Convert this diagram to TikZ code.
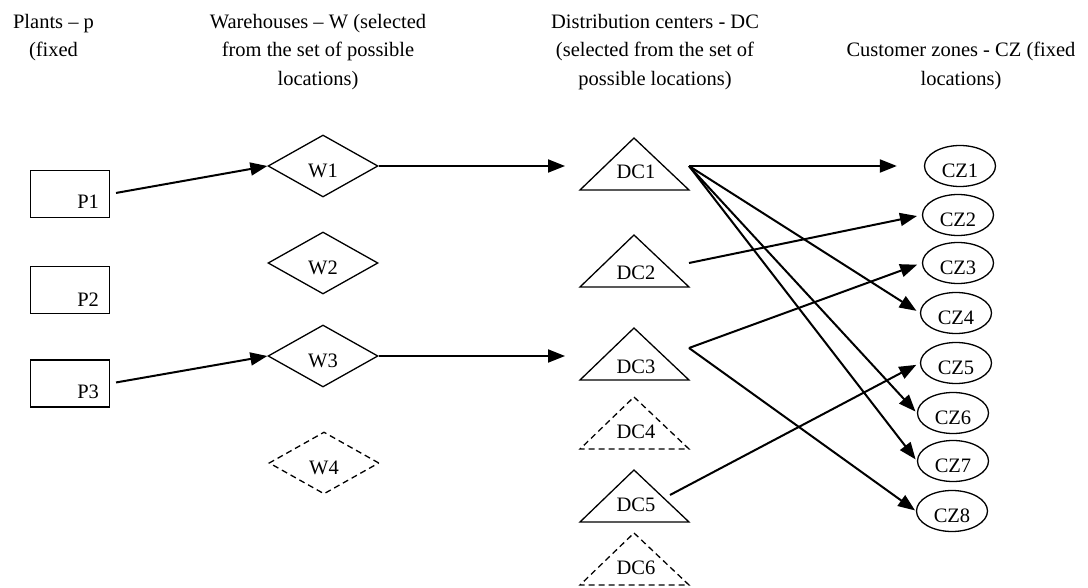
\documentclass[tikz,border=0pt]{standalone}
\usepackage{fontspec}
\setmainfont{Liberation Serif}
\usetikzlibrary{shapes.geometric, arrows.meta}

\begin{document}
\begin{tikzpicture}[x=1pt, y=-1pt,
    every node/.style={font=\fontsize{20.5}{28.5}\selectfont},
    heading/.style={align=center, anchor=north, inner sep=0pt},
    plantbox/.style={draw, line width=1.3pt, minimum width=79pt, minimum height=47pt, inner sep=0pt},
    whouse/.style={draw, diamond, line width=1.3pt, minimum width=110pt, minimum height=62pt, inner sep=0pt, text height=23.5pt, text depth=0pt},
    zone/.style={draw, ellipse, line width=1.3pt, minimum width=71pt, minimum height=41pt, inner sep=0pt, text height=23.5pt, text depth=0pt},
    tri/.style={line width=1.3pt, line join=miter},
    faint/.style={dash pattern=on 6pt off 4pt},
    flow/.style={line width=2pt, -{Triangle[length=17pt, width=13pt]}}]

    \path[use as bounding box, fill=white] (0,0) rectangle (1088,588);

    % column headings
    \node[heading] (hp) at (53.5,14) {Plants -- p\\(fixed};
    \node[heading] (hw) at (318,14) {Warehouses -- W (selected\\from the set of possible\\locations)};
    \node[heading] (hdc) at (655,14) {Distribution centers - DC\\(selected from the set of\\possible locations)};
    \node[heading] (hcz) at (961,42) {Customer zones - CZ (fixed\\locations)};

    % plants
    \foreach \n/\y/\b in {1/194/10, 2/290/8, 3/383.5/9} {
        \node[plantbox] (p\n) at (70,\y) {};
        \node[anchor=base east, inner sep=0pt] (pl\n) at ([xshift=-11pt, yshift=\b pt]p\n.south east) {P\n};
    }

    % warehouses
    \node[whouse] (w1) at (323,166) {W1};
    \node[whouse] (w2) at (323,263) {W2};
    \node[whouse] (w3) at (323,356) {W3};
    \node[whouse, faint] (w4) at (324,463) {W4};

    % distribution centers
    \foreach \n/\a/\t/\s in {1/138/172/solid, 2/235/273/solid, 3/328/367/solid, 4/397/432/faint, 5/470/505/solid, 6/533/568/faint} {
        \draw[tri, \s] (634,\a) -- (689,\a+52) -- (580,\a+52) -- cycle;
        \node (dc\n) at (636,\t) {DC\n};
    }
    \coordinate (dc1in) at (565,166);
    \coordinate (dc1out) at (689,166);
    \coordinate (dc2out) at (689,263);
    \coordinate (dc3in) at (565,356);
    \coordinate (dc3out) at (689,348);
    \coordinate (dc5out) at (670,495);

    % customer zones
    \foreach \n/\x/\y in {1/960/166, 2/958/215, 3/958/263, 4/956/313, 5/956/363, 6/953/413, 7/953/461, 8/952/511}
        \node[zone] (cz\n) at (\x,\y) {CZ\n};

    \draw[flow, shorten <=6pt] (p1.east) -- (w1.west);
    \draw[flow, shorten <=6pt] (p3.east) -- (w3.west);
    \draw[flow] (w1.east) -- (dc1in);
    \draw[flow] (w3.east) -- (dc3in);

    \draw[flow, shorten >=27pt] (dc1out) -- (cz1.west);
    \draw[flow, shorten >=5pt] (dc2out) -- (cz2.west);
    \draw[flow, shorten >=5pt] (dc3out) -- (cz3.west);
    \draw[flow, shorten >=4pt] (dc1out) -- (cz4.west);
    \draw[flow, shorten >=4pt] (dc5out) -- (cz5.west);
    \draw[flow, shorten >=2pt] (dc1out) -- (cz6.west);
    \draw[flow, shorten >=2pt] (dc1out) -- (cz7.west);
    \draw[flow, shorten >=1pt] (dc3out) -- (cz8.west);
\end{tikzpicture}
\end{document}
